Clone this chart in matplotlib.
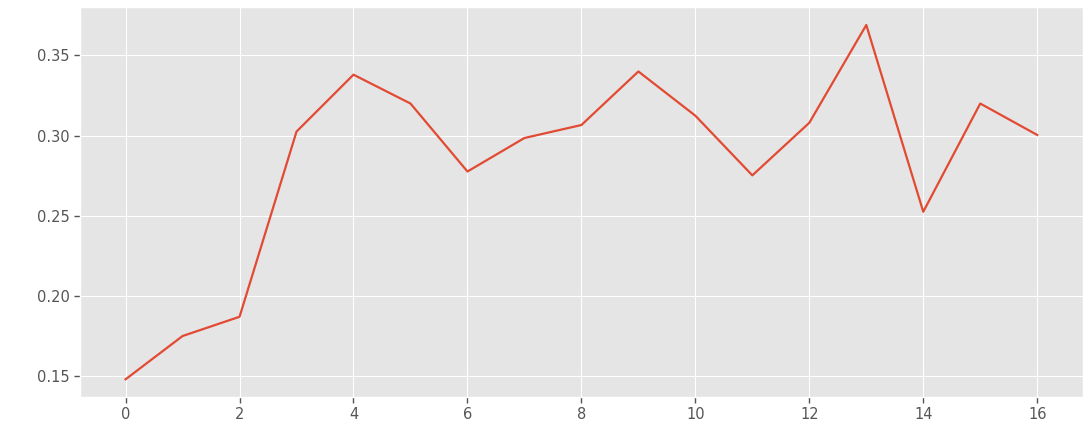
import matplotlib
matplotlib.use("Agg")
import matplotlib.pyplot as plt

plt.style.use("ggplot")

x_values = list(range(17))
y_values = [0.148, 0.175, 0.187, 0.3025, 0.338, 0.320, 0.2776, 0.2985, 0.3066,
            0.340, 0.3124, 0.2752, 0.308, 0.369, 0.2525, 0.320, 0.3004]

fig = plt.figure(figsize=(10.9, 4.48), dpi=100)
ax = fig.add_axes([0.0734, 0.1138, 0.920, 0.870])
ax.plot(x_values, y_values, linewidth=1.6, color="#E24A33")
ax.set_xticks(range(0, 17, 2))
ax.set_yticks([0.15, 0.20, 0.25, 0.30, 0.35])
ax.tick_params(labelsize=10.5, colors="#555555", length=4, width=1, labelcolor="#555555")
fig.savefig("out.png", dpi=100)
